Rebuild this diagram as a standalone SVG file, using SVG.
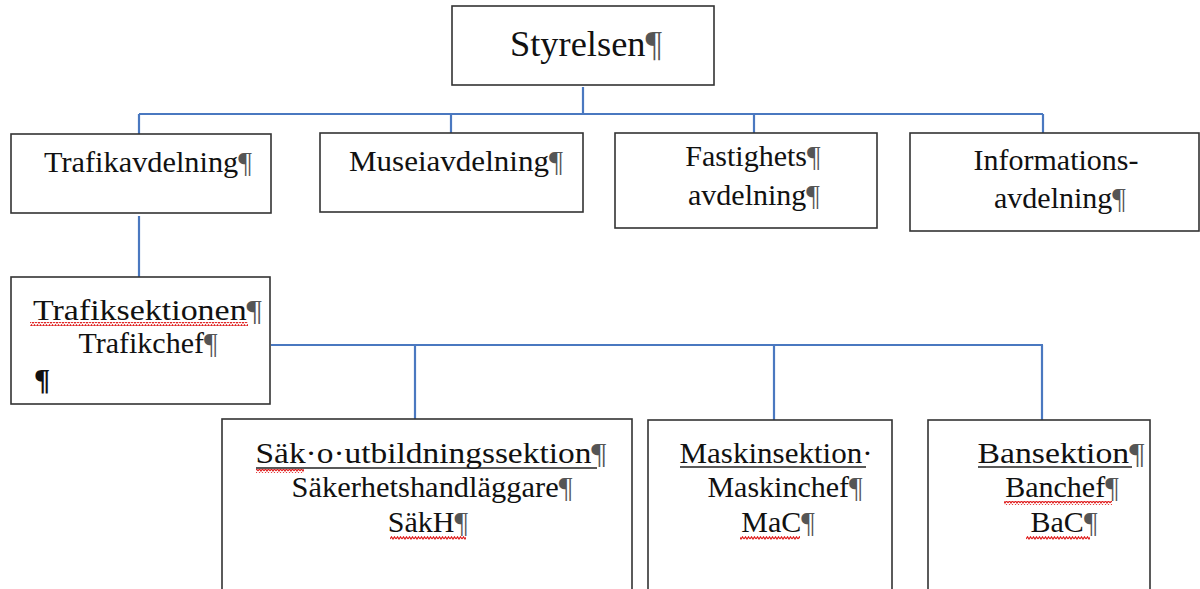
<svg xmlns="http://www.w3.org/2000/svg" width="1200" height="589" viewBox="0 0 1200 589">
<defs>
<pattern id="wave" width="6" height="4" patternUnits="userSpaceOnUse">
<path d="M0 3 L1.5 0.8 L3 3 L4.5 0.8 L6 3" fill="none" stroke="#e02020" stroke-width="1.2"/>
</pattern>
<style>
.box{fill:#fff;stroke:#333;stroke-width:1.6}
.t{font-family:"Liberation Serif","Times New Roman",serif;fill:#111;text-anchor:middle}
.p{fill:#555}
.c{stroke:#4a78c0;stroke-width:2.2;fill:none}
.ul{stroke:#222;stroke-width:1.5}
</style>
</defs>
<rect width="1200" height="589" fill="#fff"/>
<g id="connectors">
<path class="c" d="M583 87V114M139 114H1043M139 114V135M451 114V133M754 114V133M1043 114V135"/>
<path class="c" d="M139 216V277"/>
<path class="c" d="M271 345H1043M415 345V420M774 345V420M1042 345V420"/>
</g>
<g id="styrelsen">
<rect class="box" x="452" y="6" width="262" height="79"/>
<text class="t" x="586" y="56" font-size="35" textLength="152" lengthAdjust="spacingAndGlyphs">Styrelsen<tspan class="p">¶</tspan></text>
</g>
<g id="trafikavdelning">
<rect class="box" x="11" y="134" width="260" height="79"/>
<text class="t" x="148" y="172" font-size="30" textLength="208" lengthAdjust="spacingAndGlyphs">Trafikavdelning<tspan class="p">¶</tspan></text>
</g>
<g id="museiavdelning">
<rect class="box" x="320" y="133" width="263" height="79"/>
<text class="t" x="456" y="171" font-size="30" textLength="214" lengthAdjust="spacingAndGlyphs">Museiavdelning<tspan class="p">¶</tspan></text>
</g>
<g id="fastighets">
<rect class="box" x="615" y="133" width="262" height="95"/>
<text class="t" x="753" y="166" font-size="30">Fastighets<tspan class="p">¶</tspan></text>
<text class="t" x="754" y="205" font-size="30">avdelning<tspan class="p">¶</tspan></text>
</g>
<g id="informations">
<rect class="box" x="910" y="133" width="289" height="98"/>
<text class="t" x="1056" y="170" font-size="30">Informations-</text>
<text class="t" x="1060" y="208" font-size="30">avdelning<tspan class="p">¶</tspan></text>
</g>
<g id="trafiksektionen">
<rect class="box" x="11" y="277" width="259" height="127"/>
<text class="t" x="147.5" y="320" font-size="30" textLength="229" lengthAdjust="spacingAndGlyphs">Trafiksektionen<tspan class="p">¶</tspan></text>
<rect x="30" y="322" width="218" height="4" fill="url(#wave)"/>
<text class="t" x="148" y="353" font-size="30">Trafikchef<tspan class="p">¶</tspan></text>
<text class="t" x="42" y="389" font-size="30" font-weight="bold">¶</text>
</g>
<g id="saksektion">
<rect class="box" x="222" y="419" width="410" height="185"/>
<text class="t" x="431" y="463" font-size="30" textLength="351" lengthAdjust="spacingAndGlyphs">Säk·o·utbildningssektion<tspan class="p">¶</tspan></text>
<line class="ul" x1="256" y1="468" x2="597" y2="468"/>
<rect x="256" y="469" width="48" height="4" fill="url(#wave)"/>
<text class="t" x="432" y="497" font-size="30" textLength="281" lengthAdjust="spacingAndGlyphs">Säkerhetshandläggare<tspan class="p">¶</tspan></text>
<text class="t" x="428" y="532" font-size="30">SäkH<tspan class="p">¶</tspan></text>
<rect x="390" y="536" width="76" height="4" fill="url(#wave)"/>
</g>
<g id="maskinsektion">
<rect class="box" x="648" y="420" width="244" height="185"/>
<text class="t" x="776" y="463" font-size="30" textLength="193" lengthAdjust="spacingAndGlyphs">Maskinsektion·</text>
<line class="ul" x1="680" y1="467" x2="866" y2="467"/>
<text class="t" x="785" y="497" font-size="30">Maskinchef<tspan class="p">¶</tspan></text>
<text class="t" x="778" y="532" font-size="30">MaC<tspan class="p">¶</tspan></text>
<rect x="740" y="536" width="60" height="4" fill="url(#wave)"/>
</g>
<g id="bansektion">
<rect class="box" x="928" y="420" width="222" height="185"/>
<text class="t" x="1061" y="463" font-size="30" textLength="167" lengthAdjust="spacingAndGlyphs">Bansektion<tspan class="p">¶</tspan></text>
<line class="ul" x1="978" y1="467" x2="1132" y2="467"/>
<text class="t" x="1062" y="497" font-size="30">Banchef<tspan class="p">¶</tspan></text>
<rect x="1004" y="501" width="108" height="4" fill="url(#wave)"/>
<text class="t" x="1064" y="532" font-size="30">BaC<tspan class="p">¶</tspan></text>
<rect x="1026" y="536" width="64" height="4" fill="url(#wave)"/>
</g>
</svg>
